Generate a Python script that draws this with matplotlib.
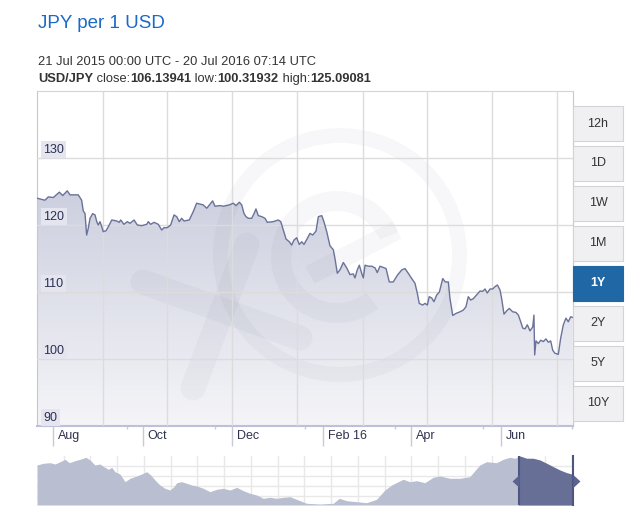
import numpy as np
import pandas as pd
import matplotlib
matplotlib.use('Agg')
import matplotlib.pyplot as plt
import matplotlib.dates as mdates
import matplotlib.transforms as mtransforms
from matplotlib.patches import Rectangle, Wedge
from matplotlib.colors import to_rgb

plt.rcParams['font.family'] = ['Liberation Sans', 'DejaVu Sans']

# main series: days after 21 Jul 2015, USD/JPY rate
start = pd.Timestamp('2015-07-21')
days = [0, 5.4, 7.7, 11.1, 15.2, 17.5, 20.6, 22.5, 28.1, 30.4, 31.5, 32.7, 33.8, 34.9,
        36.1, 37.9, 39.5, 40.7, 41.7, 42.9, 44.1, 45.1, 47.0, 48.6, 50.9, 54.3, 56.0,
        57.0, 59.2, 61.5, 63.3, 66.1, 68.3, 71.3, 74.7, 75.8, 77.4, 79.7, 82.6, 84.9,
        86.5, 88.7, 91.0, 93.3, 95.1, 96.9, 98.5, 100.1, 103.7, 106.4, 108.7, 111.5,
        113.2, 115.6, 117.8, 119.6, 121.2, 124.6, 126.9, 130.9, 133.7, 135.5, 137.8,
        139.4, 141.0, 142.3, 143.9, 146.2, 147.8, 149.1, 150.7, 153.0, 155.3, 156.8,
        160.9, 164.3, 166.0, 167.7, 169.6, 171.8, 173.4, 175.0, 176.8, 178.6, 180.3,
        181.8, 184.1, 185.9, 187.7, 190.0, 191.6, 193.9, 195.4, 197.3, 199.5, 201.8,
        202.9, 204.5, 206.3, 208.6, 210.9, 213.1, 215.4, 216.5, 218.1, 219.5, 221.1,
        222.2, 223.4, 225.6, 227.9, 230.2, 231.7, 233.6, 235.4, 237.7, 239.9, 242.6,
        245.4, 248.4, 250.6, 252.8, 255.2, 257.4, 259.0, 260.3, 262.6, 264.2, 265.8,
        267.1, 268.8, 270.3, 272.2, 274.0, 276.3, 278.0, 280.1, 281.2, 283.1, 285.3,
        287.6, 290.3, 292.1, 293.7, 295.3, 297.1, 298.9, 301.7, 303.5, 305.1, 306.6,
        308.5, 310.3, 311.9, 313.5, 315.3, 316.4, 318.0, 319.9, 321.6, 323.9, 326.2,
        327.8, 329.4, 330.8, 332.3, 333.9, 335.7, 337.6, 338.4, 338.9, 339.8, 341.4,
        343.0, 344.8, 346.6, 348.2, 349.8, 351.2, 352.7, 355.0, 356.6, 358.4, 360.2,
        361.8, 363.4, 364.8]
rate = [124.0, 123.7, 124.2, 124.1, 124.9, 124.4, 125.1, 124.5, 124.5, 123.7, 122.1, 121.7,
        118.5, 119.5, 121.0, 121.7, 121.5, 120.5, 120.0, 120.5, 119.75, 119.0, 119.15,
        119.75, 120.75, 120.6, 120.4, 120.75, 120.1, 120.5, 120.25, 120.75, 120.0, 119.9,
        120.1, 120.5, 120.1, 120.4, 120.1, 119.25, 119.6, 119.6, 120.0, 121.5, 121.25,
        120.5, 121.0, 120.6, 120.75, 122.0, 123.25, 123.1, 123.0, 122.5, 123.1, 123.6,
        122.8, 122.9, 122.8, 123.0, 123.25, 122.9, 123.4, 123.0, 121.7, 121.25, 121.0,
        121.0, 121.7, 122.4, 121.4, 121.25, 121.0, 120.4, 120.5, 120.75, 120.5, 119.25,
        117.9, 117.5, 117.0, 117.75, 118.1, 117.1, 117.5, 117.1, 118.0, 118.75, 118.5,
        119.1, 121.25, 121.4, 120.5, 119.0, 116.9, 116.3, 115.0, 112.8, 113.3, 114.4,
        113.6, 112.6, 112.7, 112.1, 113.3, 114.0, 112.8, 112.1, 114.0, 113.85, 113.85,
        113.6, 112.9, 113.85, 113.7, 113.5, 111.5, 111.5, 112.5, 113.3, 113.5, 112.8,
        112.0, 111.3, 109.8, 108.3, 108.05, 108.3, 108.05, 109.3, 109.1, 108.55, 109.55,
        110.0, 112.0, 111.5, 111.5, 109.05, 106.5, 106.8, 107.0, 107.3, 107.8, 109.3,
        108.8, 109.0, 109.45, 110.15, 110.1, 110.45, 109.85, 110.45, 110.45, 110.8,
        111.05, 110.3, 109.05, 106.7, 107.2, 107.55, 107.05, 106.95, 106.55, 105.55,
        104.6, 104.5, 105.1, 104.2, 104.8, 106.55, 100.6, 102.7, 102.3, 102.8, 102.6,
        103.0, 102.5, 102.7, 101.3, 100.85, 100.7, 103.1, 105.1, 106.1, 105.55, 106.3,
        106.2]

tick_dates = ['2015-08-01', '2015-10-01', '2015-12-01', '2016-02-01', '2016-04-01', '2016-06-01']
tick_labels = ['Aug', 'Oct', 'Dec', 'Feb 16', 'Apr', 'Jun']
minor_days = [61.3, 121.2, 182.5, 243.8, 303.7, 364.3]
grid_days = [44.7, 88.7, 133.0, 177.3, 221.8, 265.8, 310.0, 354.3]
y_labels = [90, 100, 110, 120, 130]

# navigator: 10 years of history, days after 21 Jul 2006
nav_start = pd.Timestamp('2006-07-21')
nav_days = [0, 43, 89, 123, 157, 191, 220, 259, 293, 334, 361, 395, 429, 456, 486, 509,
            531, 565, 600, 634, 679, 713, 747, 775, 804, 838, 872, 906, 933, 952, 986,
            1020, 1054, 1088, 1133, 1179, 1224, 1269, 1315, 1361, 1406, 1451, 1497, 1542,
            1587, 1633, 1678, 1724, 1769, 1792, 1837, 1928, 2019, 2060, 2110, 2178, 2246,
            2314, 2371, 2417, 2462, 2496, 2541, 2587, 2643, 2700, 2746, 2814, 2882, 2950,
            2984, 3018, 3064, 3132, 3177, 3223, 3257, 3291, 3336, 3381, 3427, 3473, 3518,
            3563, 3609, 3643, 3653]
nav_rate = [116, 117.7, 118.3, 117, 119.3, 121.7, 118.3, 120.3, 121.7, 123.7, 121, 116,
            117, 114.3, 111.7, 113.7, 109.3, 107, 99.3, 102.7, 105, 107, 109.3, 106, 101,
            96, 92.7, 91, 94.3, 98.3, 99.3, 97.7, 96, 95, 92.7, 89.3, 91.7, 92.7, 91, 93.7,
            90.3, 87.7, 86, 82.7, 83.7, 82.7, 83.7, 84.3, 81.7, 80.3, 77.7, 77, 77.7, 82.7,
            80.3, 79.3, 78.3, 81.7, 91, 96, 99.3, 101.7, 99.3, 100.3, 98.3, 103.7, 105,
            102.7, 102.7, 104.3, 110.3, 116, 119.3, 118.3, 121.7, 123.7, 122.7, 125, 122.7,
            122.7, 121, 117.7, 114.3, 111, 108.3, 107, 106]

buttons = ['12h', '1D', '1W', '1M', '1Y', '2Y', '5Y', '10Y']
selected = '1Y'

W, H = 644, 517
fig = plt.figure(figsize=(W / 100, H / 100), dpi=100)


def box(x0, y0, x1, y1):
    return [x0 / W, 1 - y1 / H, (x1 - x0) / W, (y1 - y0) / H]


# ---- main chart ----
ax = fig.add_axes(box(37, 91, 573, 426))
x = start + pd.to_timedelta(days, unit='D')
x0n = mdates.date2num(start)
x1n = x0n + 365

fill = ax.fill_between(x, rate, 90, color='none', lw=0)
n = 256
top_c, bot_c = np.array(to_rgb('#cbcede')), np.array(to_rgb('#f5f5f8'))
t = np.linspace(0, 1, n)[:, None]
grad = (bot_c * (1 - t) + top_c * t)[:, None, :]
im = ax.imshow(grad, extent=[x0n, x1n, 90, 126], origin='lower', aspect='auto',
               interpolation='bilinear', zorder=1)
im.set_clip_path(fill.get_paths()[0], transform=ax.transData)
ax.plot(x, rate, color='#6b7299', lw=1.0, zorder=4)

ax.set_xlim(x0n, x1n)
ax.set_ylim(90, 140)

# faint "xe" watermark, drawn in pixel units of the plot area
pix = mtransforms.Affine2D().scale(1 / 536, 1 / 335) + ax.transAxes
wm_col, wm_a = '#1a1f40', 0.03
ax.add_patch(Wedge((303, 171), 127, 0, 360, width=15, transform=pix, color=wm_col,
                   alpha=wm_a, lw=0, zorder=2))
ax.add_patch(Wedge((300, 169), 66, 22, 309, width=20, transform=pix, color=wm_col,
                   alpha=wm_a, lw=0, zorder=2))
ax.plot([360, 273], [196, 151], transform=pix, color=wm_col, alpha=wm_a, lw=14,
        solid_capstyle='butt', zorder=2)
ax.plot([106, 263], [144, 88], transform=pix, color=wm_col, alpha=wm_a, lw=18,
        solid_capstyle='round', zorder=2)
ax.plot([210, 156], [181, 38], transform=pix, color=wm_col, alpha=wm_a, lw=18,
        solid_capstyle='round', zorder=2)

# grid
ax.set_axisbelow(False)
ax.set_yticks([100, 110, 120, 130])
ax.yaxis.grid(True, color='#dcdcdc', lw=1, zorder=3)
ax.vlines(x0n + np.array(grid_days), 90, 140, color='#dcdcdc', lw=1, zorder=3)
ax.tick_params(axis='y', length=0, labelleft=False)

for v in y_labels:
    ax.text(0.0112, v + 0.35, str(v), transform=ax.get_yaxis_transform(), ha='left',
            va='bottom', fontsize=9, color='#2c3050', zorder=6,
            bbox=dict(boxstyle='square,pad=0.2', fc='#e4e5ef', ec='none'))

# x axis
tick_num = mdates.date2num(pd.to_datetime(tick_dates))
ax.set_xticks(tick_num)
ax.set_xticklabels(tick_labels)
ax.set_xticks(x0n + np.array(minor_days), minor=True)
ax.tick_params(axis='x', which='major', length=0, pad=3, labelsize=9, labelcolor='#2f3350')
ax.tick_params(axis='x', which='minor', length=2.5, width=1, color='#c8cad8')
offset = mtransforms.ScaledTranslation(0.05, 0, fig.dpi_scale_trans)
for lab in ax.get_xticklabels():
    lab.set_horizontalalignment('left')
    lab.set_transform(lab.get_transform() + offset)
ax.vlines(tick_num, -20 / 335, 0, transform=ax.get_xaxis_transform(), color='#c8cad8',
          lw=1, clip_on=False)

ax.spines['top'].set_color('#d4d4d4')
ax.spines['left'].set_color('#c8c8c8')
ax.spines['right'].set_color('#c8c8c8')
ax.spines['bottom'].set_color('#bcc0d8')
ax.spines['bottom'].set_linewidth(1.5)

# ---- navigator ----
ax2 = fig.add_axes(box(37, 456, 573, 505))
nx = nav_start + pd.to_timedelta(nav_days, unit='D')
n0 = mdates.date2num(nav_start)
n1 = n0 + 3653
ax2.set_axisbelow(True)
ax2.set_yticks([85, 95, 105, 115])
ax2.set_xticks(n0 + np.arange(182.3, 3653, 182.3))
ax2.grid(True, color='#e8e8e8', lw=1)
ax2.tick_params(length=0, labelleft=False, labelbottom=False)
for s in ax2.spines.values():
    s.set_visible(False)
ax2.fill_between(nx, nav_rate, 76, color='#b9bfd1', lw=0, zorder=2)
dark = ax2.fill_between(nx, nav_rate, 76, color='#686f96', lw=0, zorder=3)
dark.set_clip_path(Rectangle((x0n, 70), 400, 60, transform=ax2.transData))
ax2.set_xlim(n0, n1)
ax2.set_ylim(76, 125)
ax2.axvline(x0n, color='#4d5580', lw=1.5, zorder=4)
ax2.axvline(n1, color='#4d5580', lw=1.5, zorder=4, clip_on=False)
left_handle = [(-1, 0), (0, 0.93), (0, -0.93), (-1, 0)]
right_handle = [(1, 0), (0, 0.93), (0, -0.93), (1, 0)]
ax2.plot([x0n], [100.5], marker=left_handle, ms=10, color='#5b6390', mew=0,
         clip_on=False, zorder=5)
ax2.plot([n1], [100.5], marker=right_handle, ms=10, color='#5b6390', mew=0,
         clip_on=False, zorder=5)

# ---- range buttons ----
for i, b in enumerate(buttons):
    y0 = 106 + 40 * i
    on = b == selected
    fig.add_artist(Rectangle((573.3 / W, 1 - (y0 + 35) / H), 49.4 / W, 35 / H,
                             transform=fig.transFigure,
                             fc='#1f67a5' if on else '#f0f0f2',
                             ec='#1f67a5' if on else '#d4d4d8', lw=0.8))
    fig.text(598 / W, 1 - (y0 + 17.5) / H, b, ha='center', va='center', fontsize=9,
             color='white' if on else '#333333',
             fontweight='bold' if on else 'normal')

# ---- header ----
fig.text(38 / W, 1 - 28 / H, 'JPY per 1 USD', fontsize=13.5, color='#1b6ac9',
         va='baseline')
fig.text(38 / W, 1 - 65 / H, '21 Jul 2015 00:00 UTC - 20 Jul 2016 07:14 UTC',
         fontsize=9.3, color='#333333', va='baseline')
parts = [('USD/JPY', 'bold'), (' close:', 'normal'), ('106.13941', 'bold'),
         (' low:', 'normal'), ('100.31932', 'bold'), (' high:', 'normal'),
         ('125.09081', 'bold')]
prev = fig.text(38 / W, 1 - 82 / H, parts[0][0], fontsize=9.3, fontweight='bold',
                color='#333333', va='baseline')
for s, w in parts[1:]:
    prev = ax.annotate(s, xy=(1, 0), xycoords=prev, va='bottom', ha='left',
                       fontsize=9.3, fontweight=w, color='#333333',
                       annotation_clip=False)

fig.savefig('out.png', dpi=100)
